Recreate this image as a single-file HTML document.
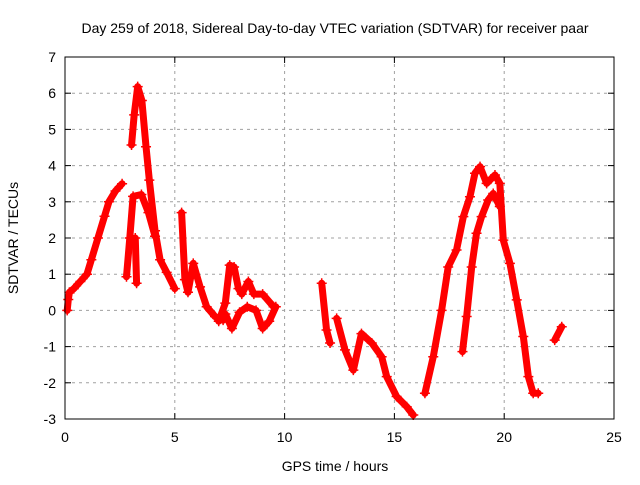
<!DOCTYPE html>
<html><head><meta charset="utf-8"><style>
body{margin:0;background:#fff;}
svg text{font-family:"Liberation Sans",sans-serif;font-size:14px;fill:#000;}
</style></head><body>
<svg id="chart" width="640" height="480" xmlns="http://www.w3.org/2000/svg">
<rect width="640" height="480" fill="#fff"/>
<text x="335" y="33" text-anchor="middle">Day 259 of 2018, Sidereal Day-to-day VTEC variation (SDTVAR) for receiver paar</text>
<text x="335" y="471" text-anchor="middle">GPS time / hours</text>
<text transform="translate(18,238) rotate(-90)" text-anchor="middle">SDTVAR / TECUs</text>
<g id="grid"></g><g id="axes"></g><g id="data"></g>
<rect x="65" y="57" width="549" height="362" fill="none" stroke="#000" stroke-width="1"/>
</svg>
<script>
const xTicks=[0,5,10,15,20,25];
const yTicks=[-3,-2,-1,0,1,2,3,4,5,6,7];
const segA=[[0.1,0.0],[0.15,0.3],[0.2,0.5],[0.4,0.6],[0.7,0.8],[1.0,1.0],[1.2,1.4],[1.5,2.0],[1.8,2.6],[2.0,3.0],[2.3,3.3],[2.6,3.5]];
const segB=[[3.03,4.57],[3.15,5.4],[3.31,6.18],[3.5,5.8],[3.69,4.52],[3.84,3.6],[4.1,2.2],[4.33,1.4],[4.63,1.05],[5.0,0.6]];
const segC=[[2.8,0.93],[2.95,2.0],[3.1,3.15],[3.48,3.2],[3.8,2.7],[4.1,2.05]];
const segC2=[[3.26,0.75],[3.2,2.0]];
const segD=[[5.31,2.7],[5.46,0.85],[5.6,0.5],[5.84,1.3],[6.15,0.65],[6.45,0.1],[6.83,-0.17],[7.2,-0.27]];
const segE1=[[7.0,-0.3],[7.3,0.2],[7.5,1.25],[7.7,1.2],[7.9,0.6],[8.05,0.45],[8.35,0.8],[8.6,0.45],[9.0,0.45],[9.5,0.1]];
const segE2=[[7.3,-0.1],[7.6,-0.5],[7.95,-0.05],[8.3,0.1],[8.7,0.0],[9.0,-0.5],[9.3,-0.3],[9.6,0.1]];
const segF=[[11.69,0.75],[11.91,-0.54],[12.07,-0.9]];
const segG=[[12.37,-0.22],[12.75,-1.09],[13.13,-1.65],[13.5,-0.64],[13.97,-0.9],[14.42,-1.28],[14.65,-1.83],[15.1,-2.38],[15.56,-2.66],[15.86,-2.89]];
const segH=[[16.39,-2.29],[16.77,-1.28],[17.15,0.0],[17.45,1.2],[17.83,1.67],[18.14,2.59],[18.44,3.14],[18.67,3.79],[18.9,3.97],[19.2,3.51],[19.58,3.74],[19.8,3.51],[19.96,1.94],[20.26,1.3],[20.57,0.29],[20.87,-0.72],[21.1,-1.83],[21.32,-2.29],[21.55,-2.29]];
const segI=[[18.1,-1.14],[18.29,-0.17],[18.52,1.2],[18.74,2.13],[18.97,2.59],[19.27,3.05],[19.5,3.23],[19.8,2.87]];
const segJ=[[22.3,-0.82],[22.62,-0.45]];
const series=[segA,segB,segC,segC2,segD,segE1,segE2,segF,segG,segH,segI,segJ];
const X0=65,X1=614,Y0=419,Y1=57;
const xs=h=>X0+(h-0)/(25-0)*(X1-X0);
const ys=v=>Y0-(v+3)/(7+3)*(Y0-Y1);
const NS="http://www.w3.org/2000/svg";
const grid=document.getElementById('grid'),axes=document.getElementById('axes'),data=document.getElementById('data');
function mk(t,a,p){const e=document.createElementNS(NS,t);for(const k in a)e.setAttribute(k,a[k]);p.appendChild(e);return e;}
xTicks.forEach(t=>{const x=xs(t);
 if(t>0&&t<25){const g=mk('line',{x1:x,x2:x,y1:Y1,y2:Y0,stroke:'#a0a0a0','stroke-dasharray':'3,4'},grid);
 
 }
 mk('line',{x1:x,x2:x,y1:Y0,y2:Y0-6,stroke:'#000'},axes);mk('line',{x1:x,x2:x,y1:Y1,y2:Y1+6,stroke:'#000'},axes);
 const l=mk('text',{x:x,y:Y0+23,'text-anchor':'middle'},axes);l.textContent=t;
 
 });
yTicks.forEach(t=>{const y=ys(t);
 if(t>-3&&t<7){const g=mk('line',{x1:X0,x2:X1,y1:y,y2:y,stroke:'#a0a0a0','stroke-dasharray':'3,4'},grid);
 
 }
 mk('line',{x1:X0,x2:X0+6,y1:y,y2:y,stroke:'#000'},axes);mk('line',{x1:X1,x2:X1-6,y1:y,y2:y,stroke:'#000'},axes);
 const l=mk('text',{x:X0-9,y:y+5,'text-anchor':'end'},axes);l.textContent=t;
 
 });
series.forEach(s=>{
 const pl=mk('polyline',{points:s.map(p=>xs(p[0])+','+ys(p[1])).join(' '),fill:'none',stroke:'#f00','stroke-width':7,'stroke-linejoin':'round','stroke-linecap':'round'},data);
 
 
 s.forEach(p=>{const x=xs(p[0]),y=ys(p[1]);
  const m=mk('path',{d:`M${x-5},${y}H${x+5}M${x},${y-5}V${y+5}`,stroke:'#f00','stroke-width':1.5},data);
  
  });
});
</script>
</body></html>
